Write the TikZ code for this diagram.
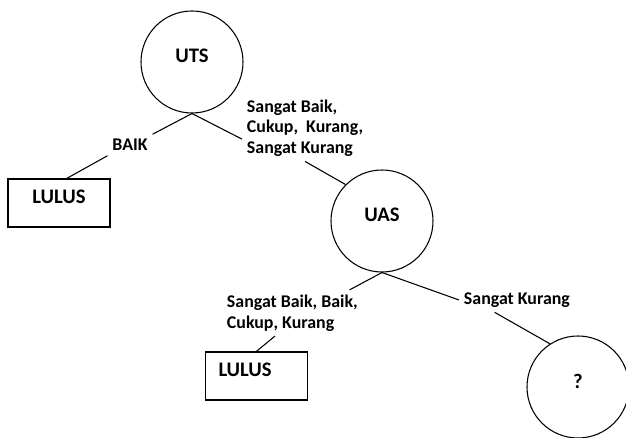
\documentclass[tikz,border=0pt]{standalone}
\usepackage{fontspec}
\setmainfont{Carlito}
\begin{document}
\begin{tikzpicture}[x=0.75pt,y=-0.75pt,line width=0.8pt,
  keadaan/.style={draw,circle,minimum size=76.5pt,inner sep=0pt,text depth=9pt,
    font=\fontsize{15.5}{18}\selectfont\bfseries},
  kotak/.style={draw,rectangle,line width=1.1pt,minimum width=76.5pt,minimum height=36pt,
    inner sep=0pt,text depth=9pt,font=\fontsize{15.5}{18}\selectfont\bfseries},
  cabang/.style={font=\fontsize{13.4}{15.5}\selectfont\bfseries,align=left}]

\useasboundingbox (0,0) rectangle (626,438);

% simpul
\node[keadaan] (uts) at (192,62) {UTS};
\node[keadaan] (uas) at (382,221) {UAS};
\node[keadaan] (tanya) at (578,387) {?};
\node[kotak] (lulusA) at (59,203) {LULUS};
\node[kotak,text width=57pt] (lulusB) at (256.5,376) {LULUS};

% label cabang
\node[cabang] (baik) at (130,145) {BAIK};
\node[cabang,anchor=west] (lain) at (242,128) {Sangat Baik,\\Cukup,~ Kurang,\\Sangat Kurang};
\node[cabang,anchor=west] (lainB) at (222,313) {Sangat Baik, Baik,\\Cukup, Kurang};
\node[cabang,anchor=west] (sk) at (459,300) {Sangat Kurang};

% garis
\draw (uts.south) -- (baik.north east);
\draw (baik.south west) -- (lulusA.72);
\draw (uts.south) -- (lain.190);
\draw (lain.south) -- (uas.135);
\draw (uas.south) -- (lainB.22);
\draw (lainB.233) -- (lulusB.north);
\draw (uas.south) -- (sk.west);
\draw (sk.209) -- (tanya.123);

\end{tikzpicture}
\end{document}
